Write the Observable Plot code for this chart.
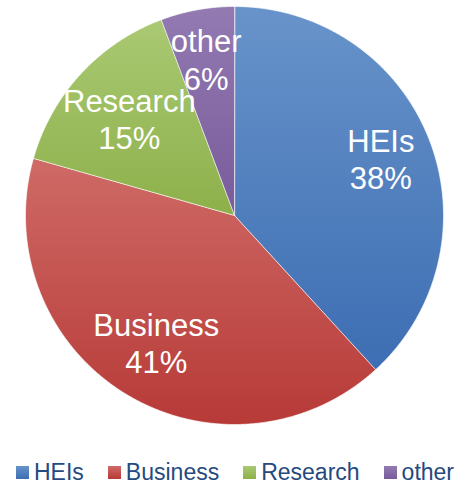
<!DOCTYPE html>
<html><head><meta charset="utf-8">
<script src="https://cdn.jsdelivr.net/npm/d3@7"></script>
<script src="https://cdn.jsdelivr.net/npm/@observablehq/plot@0.6"></script>
<style>
body{margin:0;background:#fff;font-family:"Liberation Sans",Arial,sans-serif;overflow:hidden;}
#legend{display:flex;align-items:center;padding-left:16px;margin-top:16px;line-height:1;height:23px;white-space:nowrap;font-size:23px;color:#254a80;}
.item{display:flex;align-items:center;margin-right:24px;}
.sw{width:13px;height:13px;margin-right:5px;flex:none;}
</style></head><body>
<div id="chart"></div><div id="legend"></div>
<script>
const categories = ["HEIs", "Business", "Research", "other"];
const shares = [38.2, 41.2, 14.9, 5.7];
const pctLabels = ["38%", "41%", "15%", "6%"];
const topColors = ["#6893ca", "#cf6a66", "#aac973", "#937ab1"];
const bottomColors = ["#3d6eb3", "#b73a37", "#8db04a", "#785b9c"];

// layout
const W = 460, H = 445, cx = 234, cy = 215, R = 209;
const labelRadius = [157, 149, 143, 159]; // best-fit label distance from centre

const arcs = d3.pie().sort(null).value(d => d)(shares);
const pt = (a, r) => ({x: cx + r * Math.sin(a), y: cy - r * Math.cos(a)});
const slices = arcs.map((a, i) => {
  const n = Math.max(2, Math.ceil((a.endAngle - a.startAngle) / (Math.PI / 360)));
  const pts = [{x: cx, y: cy}];
  for (let k = 0; k <= n; k++) pts.push(pt(a.startAngle + (a.endAngle - a.startAngle) * k / n, R));
  return pts;
});
const labelData = arcs.map((a, i) => {
  const m = (a.startAngle + a.endAngle) / 2;
  return {...pt(m, labelRadius[i]), text: categories[i] + "\n" + pctLabels[i]};
});

const marks = slices.map((s, i) => Plot.line(s, {
  x: "x", y: "y", curve: "linear-closed",
  fill: `url(#grad${i})`, stroke: "white", strokeWidth: 0.8, strokeOpacity: 0.8
}));
marks.push(Plot.text(labelData, {
  x: "x", y: "y", text: "text", fill: "white", fontSize: 31, lineHeight: 1.2,
  fontFamily: "Liberation Sans, Arial, sans-serif", textAnchor: "middle"
}));

const svg = Plot.plot({
  width: W, height: H, margin: 0,
  x: {domain: [0, W], range: [0, W], axis: null},
  y: {domain: [0, H], range: [0, H], axis: null},
  style: {background: "white", overflow: "visible"},
  marks
});
const ns = "http://www.w3.org/2000/svg";
const defs = document.createElementNS(ns, "defs");
categories.forEach((c, i) => {
  const g = document.createElementNS(ns, "linearGradient");
  g.setAttribute("id", "grad" + i);
  g.setAttribute("x1", "0"); g.setAttribute("y1", "0");
  g.setAttribute("x2", "0"); g.setAttribute("y2", "1");
  [[0, topColors[i]], [1, bottomColors[i]]].forEach(([o, col]) => {
    const s = document.createElementNS(ns, "stop");
    s.setAttribute("offset", o); s.setAttribute("stop-color", col);
    g.appendChild(s);
  });
  defs.appendChild(g);
});
svg.insertBefore(defs, svg.firstChild);
document.getElementById("chart").appendChild(svg);

const legend = document.getElementById("legend");
categories.forEach((c, i) => {
  const it = document.createElement("div"); it.className = "item";
  const sw = document.createElement("div"); sw.className = "sw";
  sw.style.background = `linear-gradient(${topColors[i]}, ${bottomColors[i]})`;
  const t = document.createElement("span"); t.textContent = c;
  it.appendChild(sw); it.appendChild(t); legend.appendChild(it);
});
</script>
</body></html>
